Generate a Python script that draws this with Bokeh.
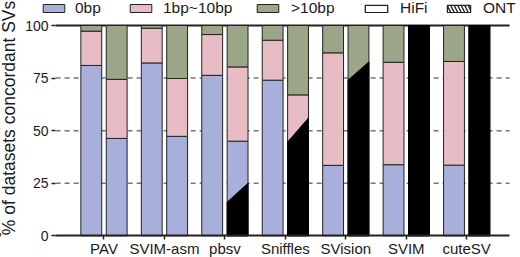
import numpy as np
from bokeh.plotting import figure
from bokeh.models import Range1d, FixedTicker, Legend, LegendItem
from bokeh.embed import file_html
from bokeh.resources import INLINE

# ---------------- data ----------------
tools = ["PAV", "SVIM-asm", "pbsv", "Sniffles", "SVision", "SVIM", "cuteSV"]
categories = ["0bp", "1bp~10bp", ">10bp"]
platforms = ["HiFi", "ONT"]

hifi_0bp = [81.0, 82.2, 76.3, 74.0, 33.5, 33.8, 33.6]
hifi_1to10 = [16.3, 16.5, 19.4, 19.0, 53.5, 48.7, 49.3]
hifi_gt10 = [2.7, 1.3, 4.3, 7.0, 13.0, 17.5, 17.1]

ont_0bp = [46.3, 47.3, 45.0, 42.0, 30.0, 33.0, 33.0]
ont_1to10 = [28.1, 27.5, 35.3, 25.0, 44.0, 45.0, 47.0]
ont_gt10 = [25.6, 25.2, 19.7, 33.0, 26.0, 22.0, 20.0]

# dark (hatch) overlay on the ONT bars: height at left and right edge
ont_dark_left = [0, 0, 16.0, 44.6, 74.0, 100, 100]
ont_dark_right = [0, 0, 25.0, 56.0, 82.7, 100, 100]

y_ticks = [0, 25, 50, 75, 100]
grid_ticks = [25, 50, 75]

colors = ["#a9afdb", "#e8bcc4", "#9ba688"]
FONT = "Liberation Sans"
TXT = "#1a1a1a"
DARK = "#222222"

# ---------------- figure ----------------
x = np.arange(len(tools), dtype=float)
HIFI_OFF, ONT_OFF, W = -0.21, 0.21, 0.345
X0, X1 = -0.8, 6.71          # extent of the drawn axis
Y_TOP = 111.89

p = figure(width=520, height=257, output_backend="svg", toolbar_location=None,
           x_range=Range1d(-1.712, 6.890), y_range=Range1d(-10.32, Y_TOP),
           min_border=0)
p.outline_line_color = None
p.background_fill_color = "white"
p.border_fill_color = "white"
p.xgrid.visible = False
p.ygrid.visible = False

# dashed grid lines and solid top line, limited to the axis extent
p.segment(x0=[X0] * len(grid_ticks), x1=[X1] * len(grid_ticks),
          y0=grid_ticks, y1=grid_ticks, line_color="#777777",
          line_dash="5 4", line_width=1.5)
p.segment(x0=[X0], x1=[X1], y0=[y_ticks[-1]], y1=[y_ticks[-1]],
          line_color=DARK, line_width=1.8)

seg_renderers = []
for off, segs in [(HIFI_OFF, [hifi_0bp, hifi_1to10, hifi_gt10]),
                  (ONT_OFF, [ont_0bp, ont_1to10, ont_gt10])]:
    bottom = np.zeros(len(tools))
    rs = []
    for vals, col in zip(segs, colors):
        top = bottom + np.array(vals)
        r = p.vbar(x=x + off, bottom=bottom, top=top, width=W,
                   fill_color=col, line_color=DARK, line_width=1)
        rs.append(r)
        bottom = top
    seg_renderers.append(rs)

# dark overlay polygons on ONT bars
xs, ys = [], []
for i in range(len(tools)):
    if ont_dark_left[i] <= 0 and ont_dark_right[i] <= 0:
        continue
    xl = x[i] + ONT_OFF - W / 2
    xr = x[i] + ONT_OFF + W / 2
    xs.append([xl, xr, xr, xl])
    ys.append([0, 0, ont_dark_right[i], ont_dark_left[i]])
p.patches(xs, ys, fill_color="black", line_color="black", line_width=1)

# axes (fixed in place)
p.xaxis.fixed_location = 0
p.xaxis.bounds = (X0, X1)
p.xaxis.ticker = FixedTicker(ticks=list(range(len(tools))))
p.xaxis.major_label_overrides = {i: t for i, t in enumerate(tools)}
p.xaxis.major_tick_out = 4
p.xaxis.major_tick_in = 0
p.xaxis.minor_tick_line_color = None
p.xaxis.axis_line_width = 2
p.xaxis.axis_line_color = DARK
p.xaxis.major_tick_line_color = DARK
p.xaxis.major_tick_line_width = 1.5
p.xaxis.major_label_standoff = 0
p.xaxis.major_label_text_font = FONT
p.xaxis.major_label_text_font_size = "15px"
p.xaxis.major_label_text_color = TXT

p.yaxis.fixed_location = X0
p.yaxis.bounds = (0, Y_TOP)
p.yaxis.ticker = FixedTicker(ticks=y_ticks)
p.yaxis.axis_line_color = None
p.yaxis.major_tick_out = 4
p.yaxis.major_tick_in = 0
p.yaxis.minor_tick_line_color = None
p.yaxis.major_tick_line_color = DARK
p.yaxis.major_tick_line_width = 1.5
p.yaxis.major_label_standoff = 3
p.yaxis.major_label_text_font = FONT
p.yaxis.major_label_text_font_size = "14px"
p.yaxis.major_label_text_color = TXT
p.yaxis.axis_label = "% of datasets concordant SVs"
p.yaxis.axis_label_text_font = FONT
p.yaxis.axis_label_text_font_size = "17.5px"
p.yaxis.axis_label_text_font_style = "normal"
p.yaxis.axis_label_text_color = TXT
p.yaxis.axis_label_standoff = 3

# legend (one legend per item for exact placement)
r_hifi = p.vbar(x=[-5], top=[1], width=W, fill_color="white",
                line_color=DARK, line_width=1.3)
r_ont = p.vbar(x=[-5], top=[1], width=W, fill_color="white",
               line_color=DARK, line_width=1.3, hatch_pattern="\\",
               hatch_color=DARK, hatch_scale=7, hatch_weight=1.4)
leg_items = [(categories[k], seg_renderers[0][k]) for k in range(3)]
leg_items += [(platforms[0], r_hifi), (platforms[1], r_ont)]
leg_x = [40, 127, 254, 362, 444]
leg_w = [27, 27, 27, 28, 29]
leg_h = [10, 10, 10, 9, 9]
leg_so = [8, 9, 10, 10, 10]
for (lab, rend), lx, gw, gh, so in zip(leg_items, leg_x, leg_w, leg_h, leg_so):
    lg = Legend(items=[LegendItem(label=lab, renderers=[rend])],
                location=(lx, 240), orientation="horizontal",
                glyph_width=gw, glyph_height=gh, label_standoff=so,
                label_height=18, padding=0, margin=0, border_line_color=None,
                background_fill_alpha=0, label_text_font=FONT,
                label_text_font_size="15.5px", label_text_color=TXT)
    p.add_layout(lg, "center")

open("out.html", "w").write(file_html(p, INLINE))
